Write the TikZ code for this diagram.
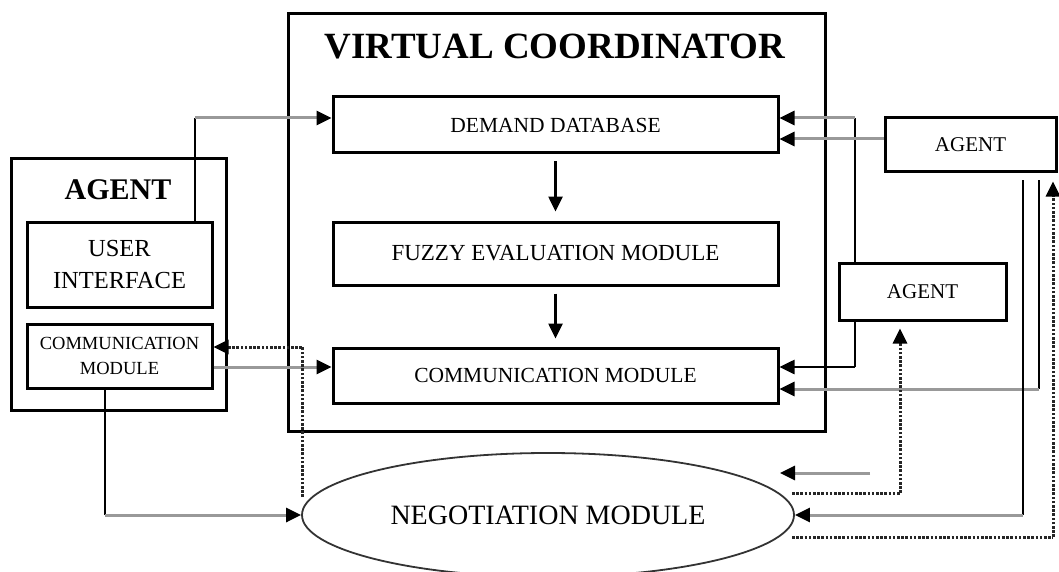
\documentclass[tikz,border=0pt]{standalone}
\usepackage{fontspec}
\setmainfont{Liberation Serif}
\usetikzlibrary{arrows.meta,shapes.geometric}
\begin{document}
\begin{tikzpicture}[x=1pt,y=-1pt,
  box/.style={draw, line width=3pt, inner sep=0pt, align=center},
  blk/.style={line width=2.6pt, black},
  gln/.style={line width=3pt, black!40},
  dln/.style={line width=3pt, black!85, dash pattern=on 2.6pt off 1.6pt},
  tip/.style={-{Triangle[length=15pt,width=14pt,color=black]}},
  lbl/.style={font=\fontsize{21.5}{23}\selectfont}
]
\useasboundingbox (0,0) rectangle (1059,572);
\clip (0,0) rectangle (1059,572);
% virtual coordinator
\node[box, minimum width=537pt, minimum height=417pt] (vc) at (556.5,222.5) {};
\node[font=\fontsize{37}{38}\selectfont\bfseries] (vct) at (555,47) {VIRTUAL COORDINATOR};
\node[box, minimum width=445pt, minimum height=56pt, lbl] (db) at (555.5,125) {DEMAND DATABASE};
\node[box, minimum width=445pt, minimum height=63pt, font=\fontsize{23}{24}\selectfont] (fz) at (555.5,253.5) {FUZZY EVALUATION MODULE};
\node[box, minimum width=445pt, minimum height=55pt, lbl] (cm) at (555.5,375.5) {COMMUNICATION MODULE};
% left agent
\node[box, minimum width=215pt, minimum height=251pt] (la) at (118.5,284.5) {};
\node[font=\fontsize{30}{31}\selectfont\bfseries] (lat) at (118,190) {AGENT};
\node[box, minimum width=185pt, minimum height=85pt, font=\fontsize{24.5}{32}\selectfont] (ui) at (119.5,264.5) {USER\\INTERFACE};
\node[box, minimum width=185pt, minimum height=64pt, font=\fontsize{18.5}{25}\selectfont] (sc) at (119.5,356) {COMMUNICATION\\MODULE};
% right agents
\node[box, minimum width=171pt, minimum height=54pt, font=\fontsize{21}{22}\selectfont] (ta) at (970.5,145) {AGENT};
\node[box, minimum width=167pt, minimum height=57pt, font=\fontsize{21}{22}\selectfont] (ma) at (922.5,291.5) {AGENT};
% negotiation
\node[draw, ellipse, line width=1.8pt, black!80, text=black, minimum width=492pt, minimum height=124pt, font=\fontsize{28}{29}\selectfont] (ng) at (548,515) {NEGOTIATION MODULE};
% helper coordinates
\coordinate (c1) at (195,118);
\coordinate (c2) at (105,515);
\coordinate (c3) at (302,347);
\coordinate (c3s) at (302,497);
\coordinate (c4) at (855,118);
\coordinate (c5) at (855,367);
\coordinate (c6) at (1039,389);
\coordinate (c7) at (1023,515);
\coordinate (c8s) at (792,537);
\coordinate (c8) at (1053,537);
\coordinate (c9s) at (792,493);
\coordinate (c9) at (900,493);
\coordinate (f1) at (870,473);
\coordinate (f2) at (780,473);
% connectors
\draw[blk] (ui.north -| c1) -- (c1);
\draw[gln, tip] (c1) -- (c1 -| db.west);
\draw[gln, tip] (sc.east |- c5) -- (cm.west |- c5);
\draw[dln] (c3s) -- (c3);
\draw[dln, tip] (c3) -- (c3 -| sc.east);
\draw[blk] (sc.south -| c2) -- (c2);
\draw[gln, tip] (c2) -- (ng.west);
\draw[blk, tip] ([yshift=-7pt]db.south) -- ([yshift=9pt]fz.north);
\draw[blk, tip] ([yshift=-7pt]fz.south) -- ([yshift=8pt]cm.north);
\draw[blk] (ma.north -| c4) -- (c4);
\draw[gln, tip] (c4) -- (c4 -| db.east);
\draw[gln, tip] (ta.west |- 0,139) -- (db.east |- 0,139);
\draw[blk] (ma.south -| c5) -- (c5);
\draw[blk, tip] (c5) -- (c5 -| cm.east);
\draw[blk] ([yshift=-7pt]ta.south -| c6) -- (c6);
\draw[gln, tip] (c6) -- (c6 -| cm.east);
\draw[blk] ([yshift=-7pt]ta.south -| c7) -- (c7);
\draw[gln, tip] (c7) -- (ng.east);
\draw[dln] (c8s) -- (c8);
\draw[dln, tip] (c8) -- ([yshift=-8pt]ta.south -| c8);
\draw[dln] (c9s) -- (c9);
\draw[dln, tip] (c9) -- ([yshift=-7pt]ma.south -| c9);
\draw[gln, tip] (f1) -- (f2);
\end{tikzpicture}
\end{document}
